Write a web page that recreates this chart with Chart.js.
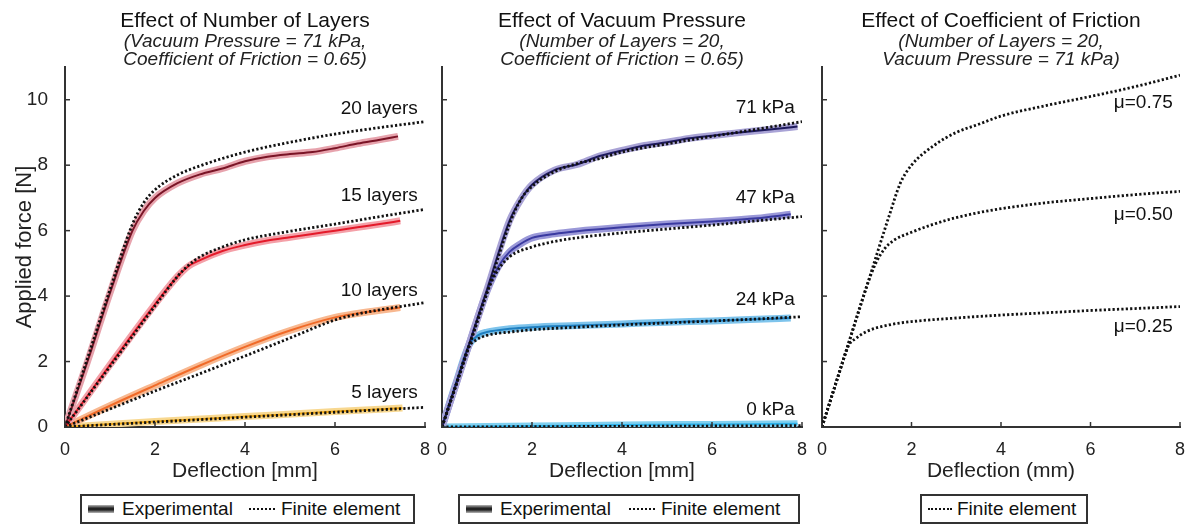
<!DOCTYPE html>
<html>
<head>
<meta charset="utf-8">
<script src="https://cdn.jsdelivr.net/npm/chart.js@4"></script>
<style>
  body { margin: 0; background: #fff; width: 1191px; height: 524px; overflow: hidden; position: relative;
         font-family: 'Liberation Sans', Arial, sans-serif; }
  canvas { position: absolute; top: 0; }
  .legend { position: absolute; top: 494px; height: 30px; border: 2px solid #333; box-sizing: border-box;
            display: flex; align-items: center; font-size: 19px; color: #111; }
  .band { width: 26px; height: 8px; margin: 0 8px 0 6px;
          background: linear-gradient(#b8b8b8, #222 40%, #222 60%, #b8b8b8); }
  .dots { width: 26px; height: 0; border-top: 2px dotted #111; margin: 0 6px 0 0; }
</style>
</head>
<body>
<canvas id="c1" width="490" height="490" style="left:0px"></canvas>
<canvas id="c2" width="404" height="490" style="left:420px"></canvas>
<canvas id="c3" width="379" height="490" style="left:812px"></canvas>

<div class="legend" style="left:80px;width:335px">
  <div class="band"></div><span>Experimental</span>
  <div class="dots" style="margin-left:16px"></div><span>Finite element</span>
</div>
<div class="legend" style="left:458px;width:342px">
  <div class="band"></div><span>Experimental</span>
  <div class="dots" style="margin-left:18px"></div><span>Finite element</span>
</div>
<div class="legend" style="left:920px;width:168px">
  <div class="dots" style="margin-left:6px;width:24px;margin-right:5px"></div><span>Finite element</span>
</div>

<script>
// --- Panel 1: number of layers (x = deflection mm, y = force N)
const fe20  = [[0,0],[0.5,2.1],[1,4.2],[1.5,6.2],[1.75,6.85],[2,7.25],[2.5,7.7],[3,7.98],[4,8.4],[5,8.7],[6,8.95],[7,9.15],[8,9.33]];
const exp20 = [[0,0],[0.5,2.0],[1,4.1],[1.5,6.0],[1.75,6.6],[2,7.0],[2.5,7.45],[3,7.72],[3.5,7.9],[4,8.12],[4.5,8.26],[5,8.34],[5.5,8.4],[6,8.52],[6.5,8.66],[7,8.78],[7.4,8.88]];
const fe15  = [[0,0],[1,1.85],[2,3.7],[2.5,4.6],[2.75,4.95],[3,5.2],[3.5,5.5],[4,5.72],[5,5.98],[6,6.2],[7,6.43],[8,6.65]];
const exp15 = [[0,0],[1,1.9],[2,3.75],[2.5,4.6],[2.75,4.92],[3,5.1],[3.5,5.38],[4,5.56],[4.5,5.7],[5,5.8],[5.5,5.9],[6,6.0],[6.5,6.1],[7,6.2],[7.45,6.3]];
const fe10  = [[0,0],[1,0.55],[2,1.1],[3,1.63],[4,2.17],[5,2.72],[6,3.27],[6.5,3.45],[7,3.58],[8,3.8]];
const exp10 = [[0,0],[1,0.65],[2,1.27],[3,1.88],[4,2.45],[5,2.95],[6,3.35],[6.5,3.47],[7,3.57],[7.45,3.65]];
const fe5   = [[0,0],[2,0.15],[4,0.3],[6,0.45],[8,0.6]];
const exp5  = [[0,0],[2,0.17],[4,0.32],[6,0.47],[7.5,0.58]];
const layerLabels = ['20 layers', '15 layers', '10 layers', '5 layers'];
const layerLabelY = [9.72, 7.06, 4.16, 1.04];

// --- Panel 2: vacuum pressure
const fe71  = [[0,0],[0.5,2.05],[1,4.1],[1.5,6.2],[1.75,6.95],[2,7.35],[2.5,7.8],[3,8.05],[3.5,8.2],[4,8.4],[5,8.65],[6,8.88],[7,9.1],[8,9.33]];
const exp71 = [[0,0],[0.5,2.1],[1,4.2],[1.5,6.3],[1.75,6.95],[2,7.4],[2.5,7.85],[3,8.02],[3.5,8.28],[4,8.45],[4.5,8.6],[5,8.7],[5.5,8.82],[6,8.9],[6.5,8.98],[7,9.05],[7.5,9.12],[7.9,9.18]];
const fe47  = [[0,0],[0.5,2.05],[1,4.1],[1.2,4.7],[1.5,5.2],[2,5.5],[2.5,5.67],[3,5.78],[4,5.93],[5,6.05],[6,6.17],[7,6.3],[8,6.43]];
const exp47 = [[0,0],[0.5,2.1],[1,4.15],[1.25,4.9],[1.5,5.35],[1.75,5.6],[2,5.78],[2.5,5.9],[3,5.98],[4,6.1],[5,6.2],[6,6.28],[7,6.38],[7.75,6.5]];
const fe24  = [[0,0],[0.3,1.24],[0.6,2.45],[0.75,2.65],[1,2.8],[1.5,2.9],[2,2.97],[3,3.05],[4,3.12],[5,3.18],[6,3.24],[7,3.3],[8,3.37]];
const exp24 = [[0,0],[0.3,1.3],[0.6,2.5],[0.8,2.8],[1,2.9],[1.5,3.0],[2,3.05],[3,3.1],[4,3.15],[5,3.2],[6,3.24],[7,3.29],[7.75,3.33]];
const fe0   = [[0,0],[2,0.01],[4,0.02],[6,0.03],[8,0.04]];
const exp0  = [[0,0],[2,0.03],[4,0.06],[6,0.08],[7.9,0.1]];
const pressureLabels = ['71 kPa', '47 kPa', '24 kPa', '0 kPa'];
const pressureLabelY = [9.75, 7.0, 3.88, 0.52];

// --- Panel 3: coefficient of friction (finite element only)
const fe075 = [[0,0],[0.5,2.15],[1,4.3],[1.5,6.45],[1.75,7.45],[2,8.0],[2.5,8.6],[3,9.0],[3.5,9.25],[4,9.5],[5,9.82],[6,10.1],[7,10.4],[8,10.75]];
const fe050 = [[0,0],[0.5,2.15],[1,4.3],[1.2,5.0],[1.4,5.45],[1.6,5.7],[2,5.95],[2.5,6.2],[3,6.4],[3.5,6.55],[4,6.67],[5,6.85],[6,6.98],[7,7.1],[8,7.2]];
const fe025 = [[0,0],[0.3,1.3],[0.6,2.5],[0.75,2.7],[1,2.92],[1.5,3.12],[2,3.22],[3,3.33],[4,3.42],[5,3.49],[6,3.56],[7,3.62],[8,3.68]];
const frictionLabels = ['\u03bc=0.75', '\u03bc=0.50', '\u03bc=0.25'];
const frictionLabelY = [9.9, 6.48, 3.06];

const xTicks = [0, 2, 4, 6, 8];
const yTicks = [0, 2, 4, 6, 8, 10];

const FONT = "'Liberation Sans', Arial, sans-serif";
const pts = arr => arr.map(p => ({ x: p[0], y: p[1] }));

// dotted FE curve
function feSet(arr) {
    return { data: pts(arr), borderColor: '#111', borderWidth: 2.8, borderDash: [2.2, 2.2],
             pointRadius: 0, cubicInterpolationMode: 'monotone', order: 0 };
}
// experimental: wide light band under a thin dark line
function expSets(arr, line, band) {
    return [
        { data: pts(arr), borderColor: line, borderWidth: 2, pointRadius: 0, cubicInterpolationMode: 'monotone', order: 1 },
        { data: pts(arr), borderColor: band, borderWidth: 7, pointRadius: 0, cubicInterpolationMode: 'monotone', order: 2 }
    ];
}

// titles, curve labels and inward tick marks
const panelText = {
    id: 'panelText',
    afterDraw(chart) {
        const o = chart.options.plugins.panelText;
        const ctx = chart.ctx;
        const a = chart.chartArea;
        const xs = chart.scales.x, ys = chart.scales.y;
        const cx = (a.left + a.right) / 2;
        ctx.save();
        // inward ticks
        ctx.strokeStyle = '#333';
        ctx.lineWidth = 1.5;
        xTicks.forEach(v => {
            const px = xs.getPixelForValue(v);
            ctx.beginPath(); ctx.moveTo(px, a.bottom); ctx.lineTo(px, a.bottom - 5); ctx.stroke();
        });
        yTicks.forEach(v => {
            const py = ys.getPixelForValue(v);
            ctx.beginPath(); ctx.moveTo(a.left, py); ctx.lineTo(a.left + 5, py); ctx.stroke();
        });
        // titles
        ctx.textAlign = 'center';
        ctx.textBaseline = 'middle';
        ctx.fillStyle = '#111';
        ctx.font = '21px ' + FONT;
        ctx.fillText(o.title, cx, 21);
        ctx.font = 'italic 19px ' + FONT;
        ctx.fillStyle = '#222';
        ctx.fillText(o.sub[0], cx, 42);
        ctx.fillText(o.sub[1], cx, 60);
        // curve labels
        ctx.textAlign = 'right';
        ctx.font = '19px ' + FONT;
        ctx.fillStyle = '#111';
        o.labels.forEach((t, i) => {
            ctx.fillText(t, xs.getPixelForValue(7.84), ys.getPixelForValue(o.labelY[i]));
        });
        ctx.restore();
    }
};

function makePanel(id, datasets, text, yw, padL, padR, showY) {
    new Chart(document.getElementById(id), {
        type: 'line',
        data: { datasets: datasets },
        plugins: [panelText],
        options: {
            responsive: false,
            animation: false,
            devicePixelRatio: 1,
            layout: { padding: { left: padL, right: padR, top: 67, bottom: 0 } },
            plugins: { legend: { display: false }, tooltip: { enabled: false }, panelText: text },
            scales: {
                x: {
                    type: 'linear', min: 0, max: 8,
                    afterBuildTicks: s => { s.ticks = xTicks.map(v => ({ value: v })); },
                    afterFit: s => { s.height = 63; },
                    grid: { display: false },
                    border: { display: true, color: '#333', width: 2 },
                    ticks: { color: '#222', font: { family: FONT, size: 18 }, padding: 4, maxRotation: 0 },
                    title: { display: true, text: text.xTitle, color: '#222',
                             font: { family: FONT, size: 21 }, padding: { top: 0, bottom: 6 } }
                },
                y: {
                    type: 'linear', min: 0, max: 11,
                    afterBuildTicks: s => { s.ticks = yTicks.map(v => ({ value: v })); },
                    afterFit: s => { s.width = yw; },
                    grid: { display: false },
                    border: { display: true, color: '#333', width: 2 },
                    ticks: { display: showY, color: '#222', font: { family: FONT, size: 19 }, padding: 9 },
                    title: { display: showY, text: 'Applied force [N]', color: '#222',
                             font: { family: FONT, size: 22 }, padding: { top: 12, bottom: 0 } }
                }
            }
        }
    });
}

makePanel('c1', [
    feSet(fe20), feSet(fe15), feSet(fe10), feSet(fe5),
    ...expSets(exp20, '#7a1426', '#e7a3ad'),
    ...expSets(exp15, '#e41a2a', '#f4a0a8'),
    ...expSets(exp10, '#f06a28', '#f8b890'),
    ...expSets(exp5, '#f0a818', '#f8d890')
], {
    title: 'Effect of Number of Layers',
    sub: ['(Vacuum Pressure = 71 kPa,', 'Coefficient of Friction = 0.65)'],
    labels: layerLabels, labelY: layerLabelY, xTitle: 'Deflection [mm]'
}, 65, 0, 65, true);

makePanel('c2', [
    feSet(fe71), feSet(fe47), feSet(fe24), feSet(fe0),
    ...expSets(exp71, '#1e1a5e', '#a9a3d6'),
    ...expSets(exp47, '#3a3aa0', '#9a98d8'),
    ...expSets(exp24, '#1f7fc0', '#7ec4ec'),
    ...expSets(exp0, '#2ab0e8', '#80d0f0')
], {
    title: 'Effect of Vacuum Pressure',
    sub: ['(Number of Layers = 20,', 'Coefficient of Friction = 0.65)'],
    labels: pressureLabels, labelY: pressureLabelY, xTitle: 'Deflection [mm]'
}, 22, 0, 22, false);

makePanel('c3', [
    feSet(fe075), feSet(fe050), feSet(fe025)
], {
    title: 'Effect of Coefficient of Friction',
    sub: ['(Number of Layers = 20,', 'Vacuum Pressure = 71 kPa)'],
    labels: frictionLabels, labelY: frictionLabelY, xTitle: 'Deflection (mm)'
}, 10, 0, 11, false);
</script>
</body>
</html>
